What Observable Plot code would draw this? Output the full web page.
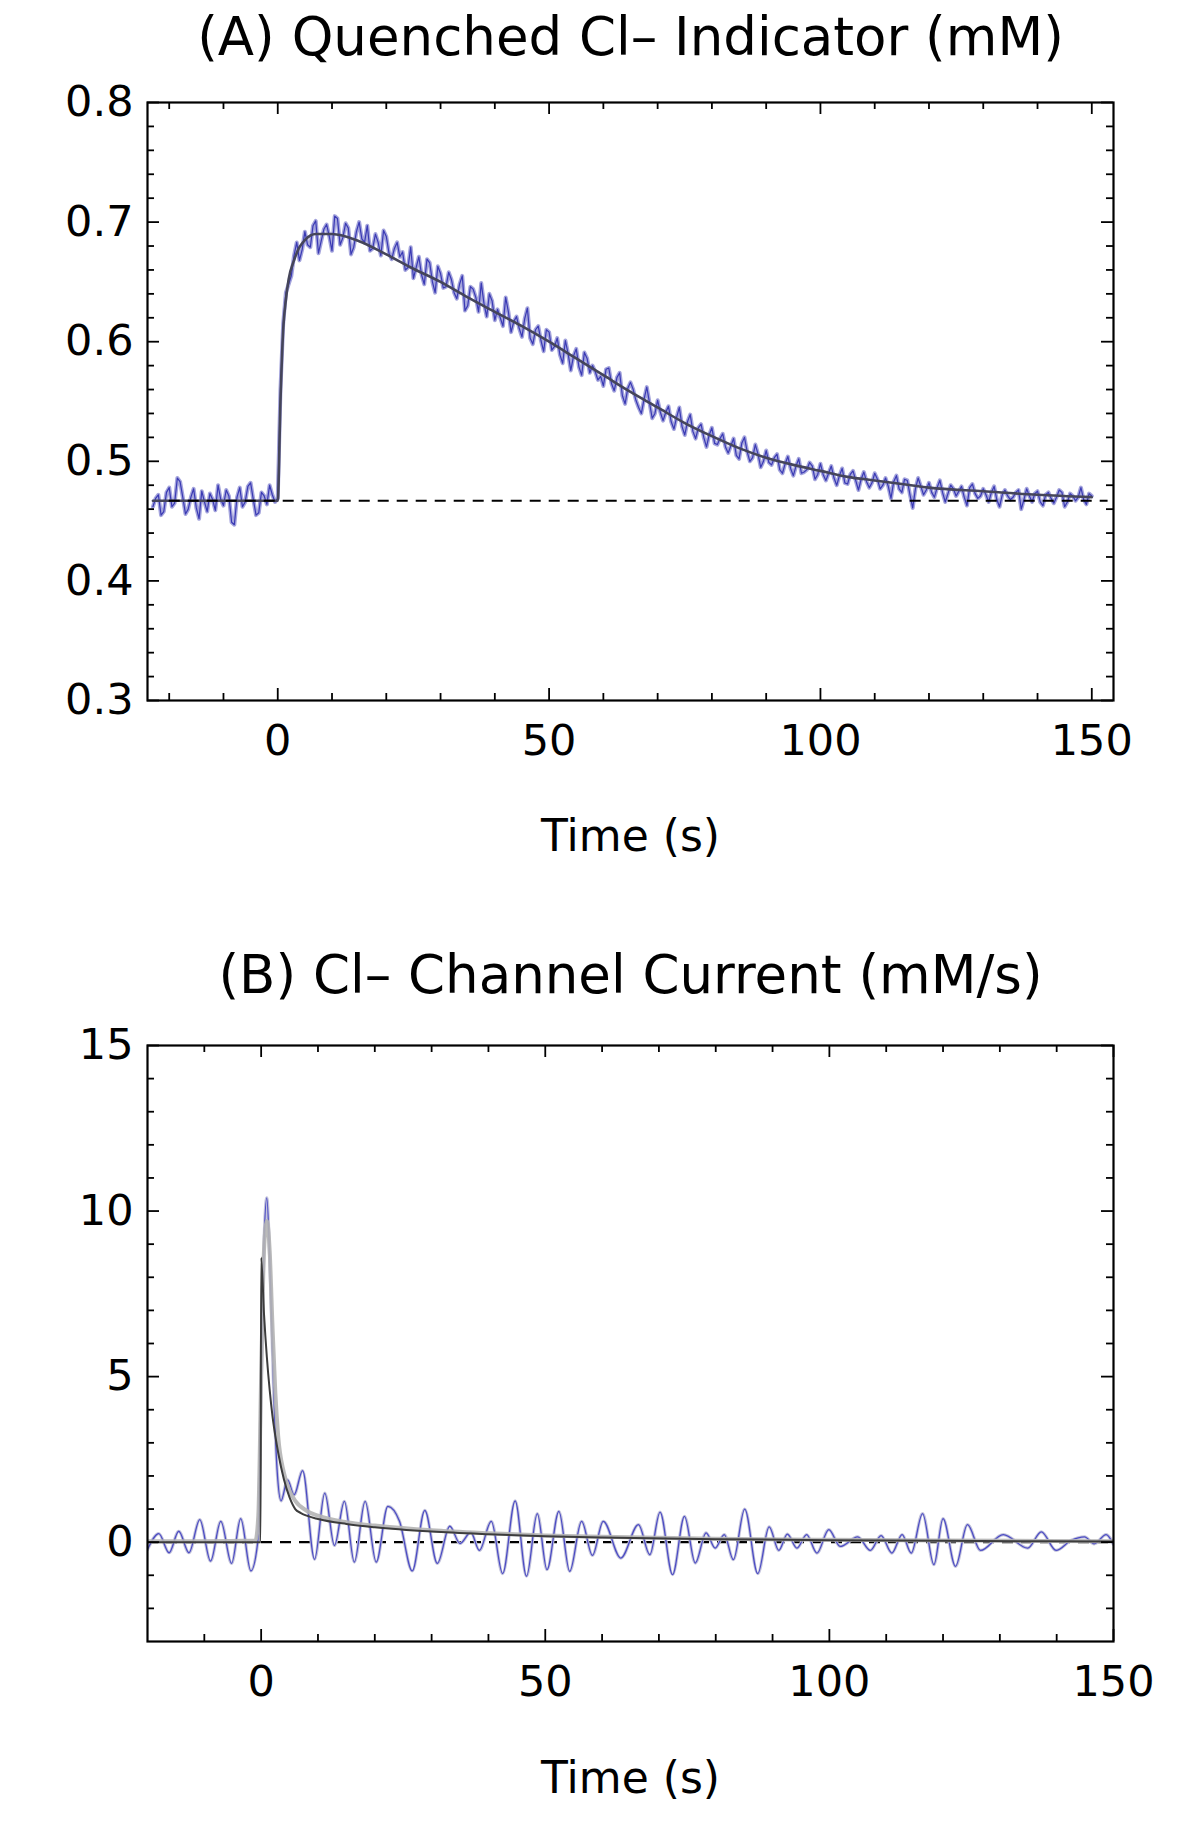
<!DOCTYPE html>
<html><head><meta charset="utf-8">
<script src="https://cdn.jsdelivr.net/npm/d3@7"></script>
<script src="https://cdn.jsdelivr.net/npm/@observablehq/plot@0.6"></script>
<style>
html,body{margin:0;padding:0;background:#fff;overflow:hidden}
#chart svg{display:block}
</style></head><body><div id="chart"></div>
<script>
// ---------- Panel A: quenched indicator (mM) ----------
const titleA = "(A) Quenched Cl– Indicator (mM)";
const titleB = "(B) Cl– Channel Current (mM/s)";
const xLabel = "Time (s)";

// samples on whole seconds
const tA = [-23,-22,-21,-20,-19,-18,-17,-16,-15,-14,-13,-12,-11,-10,-9,-8,-7,-6,-5,-4,-3,-2,-1,0,0.5,
  1,2,3,4,5,6,7,8,9,10,11,12,13,14,15,16,17,18,19,20,21,22,23,24,25,26,27,28,29,30,
  31,32,33,34,35,36,37,38,39,40,41,42,43,44,45,46,47,48,49,50,51,52,53,54,55,56,57,58,59,60,
  61,62,63,64,65,66,67,68,69,70,71,72,73,74,75,76,77,78,79,80,81,82,83,84,85,86,87,88,89,90,
  91,92,93,94,95,96,97,98,99,100,101,102,103,104,105,106,107,108,109,110,111,112,113,114,115,116,117,118,119,120,
  121,122,123,124,125,126,127,128,129,130,131,132,133,134,135,136,137,138,139,140,141,142,143,144,145,146,147,148,149,150];
const vA = [0.462,0.472,0.458,0.478,0.465,0.483,0.456,0.470,0.461,0.475,0.458,0.468,0.480,0.463,0.471,0.447,0.478,0.466,0.482,0.455,0.474,0.464,0.472,0.469,0.560,
  0.615,0.648,0.672,0.668,0.692,0.679,0.701,0.684,0.698,0.676,
  0.703,0.687,0.695,0.679,0.700,0.683,0.676,0.690,0.672,0.688,
  0.669,0.683,0.675,0.662,0.653,0.671,0.648,0.666,0.641,0.657,
  0.646,0.652,0.636,0.655,0.630,0.644,0.625,0.632,0.640,0.618,
  0.620,0.637,0.608,0.621,0.604,0.628,0.598,0.613,0.592,0.608,
  0.596,0.589,0.601,0.576,0.594,0.572,0.586,0.580,0.568,0.563,
  0.578,0.559,0.574,0.548,0.566,0.551,0.540,0.562,0.536,0.551,
  0.534,0.546,0.527,0.545,0.522,0.539,0.519,0.531,0.512,0.528,
  0.514,0.523,0.507,0.519,0.502,0.520,0.500,0.514,0.495,0.509,
  0.497,0.506,0.490,0.504,0.488,0.502,0.491,0.499,0.485,0.498,
  0.484,0.496,0.480,0.494,0.481,0.492,0.476,0.491,0.478,0.490,
  0.477,0.486,0.469,0.488,0.474,0.484,0.461,0.486,0.472,0.482,
  0.470,0.484,0.466,0.480,0.471,0.479,0.463,0.481,0.469,0.477,
  0.466,0.479,0.462,0.476,0.468,0.474,0.460,0.477,0.466,0.475,
  0.463,0.474,0.465,0.476,0.462,0.473,0.467,0.478,0.464,0.471];

// samples on half seconds
const tA2 = [-22.5,-21.5,-20.5,-19.5,-18.5,-17.5,-16.5,-15.5,-14.5,-13.5,-12.5,-11.5,-10.5,-9.5,-8.5,-7.5,-6.5,-5.5,-4.5,-3.5,-2.5,-1.5,-0.5,
  1.5,2.5,3.5,4.5,5.5,6.5,7.5,8.5,9.5,10.5,11.5,12.5,13.5,14.5,15.5,16.5,17.5,18.5,19.5,20.5,
  21.5,22.5,23.5,24.5,25.5,26.5,27.5,28.5,29.5,30.5,31.5,32.5,33.5,34.5,35.5,36.5,37.5,38.5,39.5,40.5,
  41.5,42.5,43.5,44.5,45.5,46.5,47.5,48.5,49.5,50.5,51.5,52.5,53.5,54.5,55.5,56.5,57.5,58.5,59.5,60.5,
  61.5,62.5,63.5,64.5,65.5,66.5,67.5,68.5,69.5,70.5,71.5,72.5,73.5,74.5,75.5,76.5,77.5,78.5,79.5,80.5,
  81.5,82.5,83.5,84.5,85.5,86.5,87.5,88.5,89.5,90.5,91.5,92.5,93.5,94.5,95.5,96.5,97.5,98.5,99.5,100.5,
  101.5,102.5,103.5,104.5,105.5,106.5,107.5,108.5,109.5,110.5,111.5,112.5,113.5,114.5,115.5,116.5,117.5,118.5,119.5,120.5,
  121.5,122.5,123.5,124.5,125.5,126.5,127.5,128.5,129.5,130.5,131.5,132.5,133.5,134.5,135.5,136.5,137.5,138.5,139.5,140.5,
  141.5,142.5,143.5,144.5,145.5,146.5,147.5,148.5,149.5];
const vA2 = [0.469,0.455,0.474,0.462,0.486,0.470,0.460,0.477,0.452,0.466,0.473,0.459,0.468,0.476,0.449,0.470,0.462,0.479,0.468,0.457,0.471,0.480,0.466,
  0.641,0.655,0.683,0.677,0.681,0.697,0.674,0.694,0.688,0.705,
  0.681,0.699,0.673,0.692,0.686,0.697,0.678,0.683,0.693,0.674,
  0.678,0.671,0.660,0.679,0.662,0.656,0.669,0.650,0.663,0.645,
  0.658,0.641,0.648,0.626,0.646,0.637,0.649,0.621,0.634,0.627,
  0.613,0.625,0.617,0.611,0.619,0.603,0.610,0.601,0.610,0.593,
  0.603,0.582,0.590,0.588,0.579,0.591,0.574,0.575,0.571,0.577,
  0.565,0.570,0.555,0.561,0.560,0.545,0.552,0.549,0.540,0.541,
  0.541,0.533,0.537,0.529,0.533,0.525,0.528,0.520,0.522,0.515,
  0.519,0.512,0.513,0.505,0.515,0.508,0.503,0.506,0.500,0.499,
  0.503,0.493,0.498,0.494,0.496,0.490,0.493,0.496,0.489,0.489,
  0.490,0.486,0.488,0.482,0.489,0.484,0.485,0.483,0.482,0.485,
  0.480,0.479,0.483,0.477,0.485,0.472,0.477,0.479,0.476,0.474,
  0.478,0.474,0.473,0.477,0.475,0.470,0.478,0.473,0.471,0.472,
  0.474,0.468,0.472,0.471,0.470,0.476,0.468,0.471,0.473,0.466,
  0.472,0.469,0.470,0.474,0.466,0.471,0.470,0.468,0.473];

const fitTA = [-23,0,0.5,1,1.5,2,3,4,5,7,10,15,20,25,30,35,40,45,50,55,60,65,70,75,80,85,90,95,100,105,110,115,120,130,140,150];
const fitVA = [0.467,0.467,0.55,0.61,0.635,0.652,0.668,0.679,0.685,0.690,0.690,0.684,0.673,0.661,0.650,0.637,0.625,0.613,0.600,0.586,0.572,0.558,0.545,0.532,0.521,0.511,0.503,0.497,0.492,0.487,0.484,0.481,0.478,0.475,0.472,0.470];
const baselineA = 0.467;

const xMajorA = [0,50,100,150];
const xMinorA = [-20,-10,10,20,30,40,60,70,80,90,110,120,130,140];
const yMajorA = [0.3,0.4,0.5,0.6,0.7,0.8];
const yMinorA = [0.32,0.34,0.36,0.38,0.42,0.44,0.46,0.48,0.52,0.54,0.56,0.58,0.62,0.64,0.66,0.68,0.72,0.74,0.76,0.78];

// ---------- Panel B: channel current (mM/s) ----------
const tB = [-20,-18,-16.2,-14.5,-12.7,-10.8,-8.9,-7.1,-5.2,-3.6,-1.8,-0.6,0,0.5,1.0,1.5,2.2,2.8,3.5,4.65,5.8,7.3,9.4,11.2,12.9,14.65,16.4,18.3,20.25,22.3,24.35,26.6,28.8,31,33.2,35,36.9,38.4,40.5,42.5,44.7,46.7,48.6,50.3,52.4,54.3,56.4,58.3,60.2,63.3,66.4,68.4,70.2,72.4,74.5,76.4,78.3,79.9,81.5,83.1,85.1,87.4,89.4,91.1,92.6,94.3,96,97.8,99.9,101.9,105,107.2,109.1,111,112.8,114.4,116.4,118.4,120,122.2,124.3,126.6,130.6,134.9,137.3,139.9,142.5,144.9,146.6,148.7,150];
const vB = [-0.22,0.26,-0.32,0.33,-0.32,0.68,-0.57,0.63,-0.64,0.71,-0.87,0.0,4.6,9.0,10.4,8.6,4.6,2.2,1.25,1.88,1.43,2.16,-0.52,1.48,-0.1,1.23,-0.6,1.23,-0.6,1.08,0.63,-0.87,0.96,-0.64,0.48,-0.04,0.3,-0.25,0.63,-0.95,1.25,-1.03,0.86,-0.83,0.93,-0.88,0.63,-0.4,0.63,-0.48,0.53,-0.38,0.91,-0.98,0.78,-0.63,0.28,-0.18,0.23,-0.53,1.0,-0.95,0.46,-0.25,0.24,-0.18,0.23,-0.33,0.38,-0.13,0.16,-0.25,0.2,-0.33,0.23,-0.33,0.86,-0.68,0.71,-0.73,0.53,-0.25,0.23,-0.18,0.31,-0.25,0.05,0.16,-0.05,0.23,-0.07];

const smoothTB = [-20,-10,-1,-0.5,0,0.5,1,1.5,2,2.5,3,4,5,6,8,10,15,20,30,40,50,60,80,100,120,150];
const smoothVB = [0.03,0.03,0.05,0.8,5.0,8.8,9.7,8.8,6.5,4.5,3.2,2.1,1.55,1.25,0.95,0.8,0.6,0.5,0.36,0.27,0.2,0.16,0.1,0.07,0.05,0.03];

const fitTB = [-20,-0.1,0,0.5,1,1.5,2,2.5,3,4,5,6,7,8,10,15,20,30,40,50,60,80,100,120,150];
const fitVB = [0,0,8.6,6.9,5.6,4.6,3.8,3.2,2.7,1.9,1.35,1.0,0.88,0.8,0.7,0.55,0.45,0.32,0.24,0.18,0.14,0.09,0.06,0.04,0.02];
const baselineB = 0;

const xMajorB = [0,50,100,150];
const xMinorB = [-10,10,20,30,40,60,70,80,90,110,120,130,140];
const yMajorB = [0,5,10,15];
const yMinorB = [-2,-1,1,2,3,4,6,7,8,9,11,12,13,14];

// ---------- layout ----------
const W = 1200, ML = 147, MR = 87;
const FONT = "DejaVu Sans";

function panel(o) {
  const fh = o.height - o.mt - o.mb;
  const fw = W - ML - MR;
  const MAJ = 12, MIN = 7;
  const tk = {stroke: "black", strokeWidth: 1.8};
  return Plot.plot({
    width: W, height: o.height,
    marginTop: o.mt, marginBottom: o.mb, marginLeft: ML, marginRight: MR,
    style: {fontFamily: FONT, background: "white", color: "black", overflow: "visible"},
    x: {domain: o.xDomain},
    y: {domain: o.yDomain},
    marks: [
      ...o.marks,
      Plot.tickX(o.xMajor, {x: d => d, insetTop: fh - MAJ, ...tk}),
      Plot.tickX(o.xMajor, {x: d => d, insetBottom: fh - MAJ, ...tk}),
      Plot.tickX(o.xMinor, {x: d => d, insetTop: fh - MIN, ...tk}),
      Plot.tickX(o.xMinor, {x: d => d, insetBottom: fh - MIN, ...tk}),
      Plot.tickY(o.yMajor, {y: d => d, insetRight: fw - MAJ, ...tk}),
      Plot.tickY(o.yMajor, {y: d => d, insetLeft: fw - MAJ, ...tk}),
      Plot.tickY(o.yMinor, {y: d => d, insetRight: fw - MIN, ...tk}),
      Plot.tickY(o.yMinor, {y: d => d, insetLeft: fw - MIN, ...tk}),
      Plot.frame({stroke: "black", strokeWidth: 2.2}),
      Plot.axisX(o.xMajor, {tickSize: 0, tickPadding: 24, fontSize: 43, label: null, tickFormat: d => String(d)}),
      Plot.axisY(o.yMajor, {tickSize: 0, tickPadding: 14, fontSize: 43, label: null, tickFormat: d => String(d)}),
      Plot.text([o.title], {frameAnchor: "top", dy: o.titleDy, fontSize: 53, lineAnchor: "middle", fill: "black"}),
      Plot.text([xLabel], {frameAnchor: "bottom", dy: o.labelDy, fontSize: 44, lineAnchor: "middle", fill: "black"})
    ]
  });
}

// merge the whole-second and half-second samples into one time-ordered table
const rowsA = tA.map((t, i) => ({t, v: vA[i]}))
  .concat(tA2.map((t, i) => ({t, v: vA2[i]})))
  .sort((a, b) => a.t - b.t);
const fitRowsA = fitTA.map((t, i) => ({t, v: fitVA[i]}));

const plotA = panel({
  height: 900, mt: 102, mb: 200,
  xDomain: [-24, 154], yDomain: [0.3, 0.8],
  xMajor: xMajorA, xMinor: xMinorA, yMajor: yMajorA, yMinor: yMinorA,
  title: titleA, titleDy: -64, labelDy: 136,
  marks: [
    Plot.line(rowsA, {x: "t", y: "v", stroke: "#a4a4dc", strokeWidth: 4, clip: true}),
    Plot.line(rowsA, {x: "t", y: "v", stroke: "#3a3ab4", strokeWidth: 1.2, clip: true}),
    Plot.line(fitRowsA, {x: "t", y: "v", curve: "monotone-x", stroke: "#45455a", strokeWidth: 2.6, clip: true}),
    Plot.ruleY([baselineA], {y: d => d, x1: -20, x2: 153, stroke: "black", strokeWidth: 2.2, strokeDasharray: "11,8"})
  ]
});

const rowsB = tB.map((t, i) => ({t, v: vB[i]}));
const smoothRowsB = smoothTB.map((t, i) => ({t, v: smoothVB[i]}));
const fitRowsB = fitTB.map((t, i) => ({t, v: fitVB[i]}));

const plotB = panel({
  height: 927, mt: 145, mb: 186,
  xDomain: [-20, 150], yDomain: [-3, 15],
  xMajor: xMajorB, xMinor: xMinorB, yMajor: yMajorB, yMinor: yMinorB,
  title: titleB, titleDy: -69, labelDy: 137,
  marks: [
    Plot.ruleY([baselineB], {y: d => d, stroke: "black", strokeWidth: 2.2, strokeDasharray: "11,8"}),
    Plot.line(rowsB, {x: "t", y: "v", curve: "monotone-x", stroke: "#c4c4dc", strokeWidth: 3.2, clip: true}),
    Plot.line(rowsB, {x: "t", y: "v", curve: "monotone-x", stroke: "#4c4cc4", strokeWidth: 1.3, clip: true}),
    Plot.line(smoothRowsB, {x: "t", y: "v", curve: "monotone-x", stroke: "#b4b4b4", strokeWidth: 4, strokeOpacity: 0.9, clip: true}),
    Plot.line(fitRowsB, {x: "t", y: "v", curve: "monotone-x", stroke: "#3c3c3c", strokeWidth: 2, clip: true})
  ]
});

const root = document.getElementById("chart");
root.appendChild(plotA);
root.appendChild(plotB);
</script>
</body></html>
